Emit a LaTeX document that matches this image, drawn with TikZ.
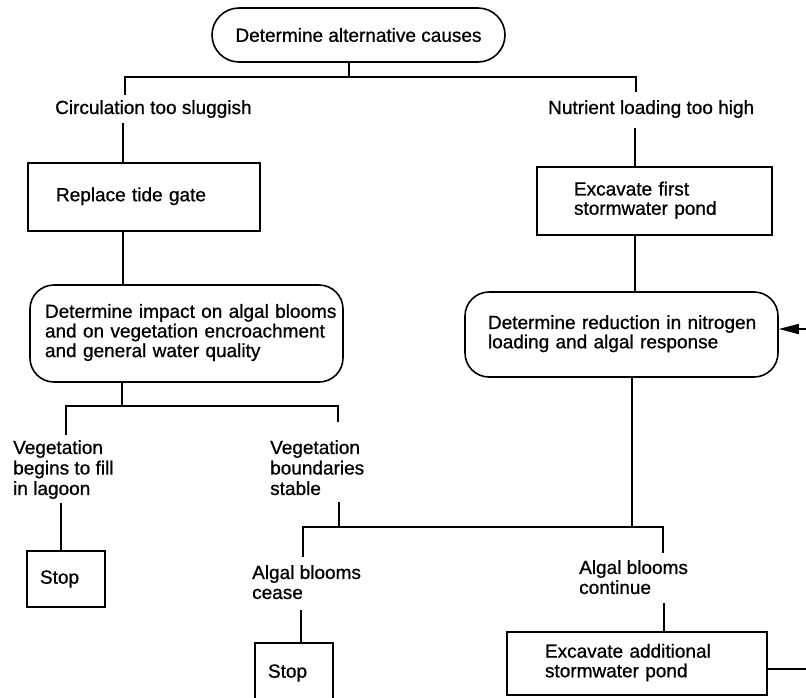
\documentclass[tikz,border=0pt]{standalone}
\usepackage{fontspec}
\setmainfont{Liberation Sans}[FakeBold=0.8]
\usetikzlibrary{arrows.meta}
\newcommand{\lns}[1]{\begin{tabular}{@{}l@{}}#1\end{tabular}}
\begin{document}
\begin{tikzpicture}[x=1pt,y=-1pt,
  every node/.style={font=\fontsize{19}{21}\selectfont},
  ln/.style={line width=1.6pt},
  boxb/.style={draw,line width=1.6pt,align=left,inner ysep=0pt},
  lbl/.style={inner sep=0pt,align=left,anchor=north west}]
\clip (0,0) rectangle (806,697);
\fill[white] (0,0) rectangle (806,697);
% boxes
\node[boxb,rounded corners=27pt,minimum width=293pt,minimum height=54pt,align=center,inner xsep=0pt] (top) at (358.5,35) {Determine alternative causes};
\node[boxb,minimum width=232pt,minimum height=68pt,text width=176pt,inner xsep=28pt] (replace) at (144,197) {\lns{Replace tide gate}};
\node[boxb,rounded corners=24pt,minimum width=313pt,minimum height=97pt,text width=283pt,inner xsep=15pt] (impact) at (186.5,333.5) {\renewcommand{\arraystretch}{0.93}\lns{Determine impact on algal blooms\\and on vegetation encroachment\\and general water quality}};
\node[boxb,minimum width=235pt,minimum height=68pt,text width=161pt,inner xsep=37pt] (exca) at (654.5,201) {\renewcommand{\arraystretch}{0.88}\lns{Excavate first\\stormwater pond}};
\node[boxb,rounded corners=24pt,minimum width=313pt,minimum height=85pt,text width=267pt,inner xsep=23pt] (reduc) at (621.5,334.5) {\renewcommand{\arraystretch}{0.88}\lns{Determine reduction in nitrogen\\loading and algal response}};
\node[boxb,minimum width=260pt,minimum height=63pt,text width=184pt,inner xsep=38pt] (excb) at (637,663.5) {\renewcommand{\arraystretch}{0.93}\lns{Excavate additional\\stormwater pond}};
\node[boxb,minimum width=78pt,minimum height=56pt,text width=52pt,inner xsep=13pt] (stopa) at (66,579) {Stop};
\node[boxb,minimum width=78pt,minimum height=60pt,text width=52pt,inner xsep=13pt] (stopb) at (294,673) {Stop};
% labels
\node[inner sep=0pt,anchor=base west] (circ) at (55,114) {Circulation too sluggish};
\node[inner sep=0pt,anchor=base west] (nutr) at (548,114) {Nutrient loading too high};
\node[lbl,font=\fontsize{19}{20.5}\selectfont] (vega) at (13,440) {Vegetation\\begins to fill\\in lagoon};
\node[lbl,font=\fontsize{19}{20.5}\selectfont] (vegb) at (270,440) {Vegetation\\boundaries\\stable};
\node[lbl,font=\fontsize{19}{20}\selectfont] (cease) at (252,565) {Algal blooms\\cease};
\node[lbl,font=\fontsize{19}{20}\selectfont] (cont) at (579,560) {Algal blooms\\continue};
% junction coordinates
\coordinate (j1) at (349,77);
\coordinate (tl) at (125,95);
\coordinate (tr) at (636,92);
\coordinate (c2) at (123,123);
\coordinate (n2) at (635,128);
\coordinate (j2) at (122,406);
\coordinate (vl) at (66,435);
\coordinate (vr) at (338,422);
\coordinate (va) at (61,503);
\coordinate (vb) at (339,502);
\coordinate (j3) at (632,527);
\coordinate (al) at (303,557);
\coordinate (ar) at (663,553);
\coordinate (ca) at (301,610);
\coordinate (cb) at (664,603);
\coordinate (fbr) at (830,669);
\coordinate (fbt) at (830,329);
% connectors
\draw[ln] (j1 |- top.south) -- (j1);
\draw[ln] (tl) -- (tl |- j1) -- (tr |- j1) -- (tr);
\draw[ln] (c2) -- (c2 |- replace.north);
\draw[ln] (c2 |- replace.south) -- (c2 |- impact.north);
\draw[ln] (n2) -- (n2 |- exca.north);
\draw[ln] (n2 |- exca.south) -- (n2 |- reduc.north);
\draw[ln] (j2 |- impact.south) -- (j2);
\draw[ln] (vl) -- (vl |- j2) -- (vr |- j2) -- (vr);
\draw[ln] (va) -- (va |- stopa.north);
\draw[ln] (vb) -- (vb |- j3);
\draw[ln] (j3 |- reduc.south) -- (j3);
\draw[ln] (al) -- (al |- j3) -- (ar |- j3) -- (ar);
\draw[ln] (ca) -- (ca |- stopb.north);
\draw[ln] (cb) -- (cb |- excb.north);
\draw[ln,-{Triangle[length=20pt,width=10pt]}] (fbr -| excb.east) -- (fbr) -- (fbt) -- (fbt -| reduc.east);
\end{tikzpicture}
\end{document}
